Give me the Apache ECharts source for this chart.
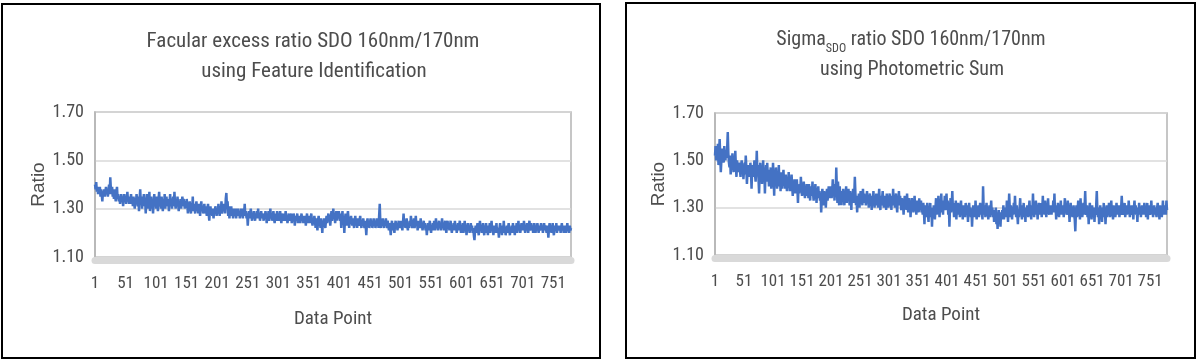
<!DOCTYPE html>
<html>
<head>
<meta charset="utf-8">
<script src="https://cdn.jsdelivr.net/npm/echarts@6/dist/echarts.min.js"></script>
<style>
html,body{margin:0;padding:0;background:#fff;}
#chart{width:1200px;height:362px;}
</style>
</head>
<body>
<div id="chart"></div>
<script>
// ---------- data ----------
const categories = Array.from({length: 780}, (_, i) => String(i + 1));
const yTicks = [1.10, 1.30, 1.50, 1.70];
const leftTitle = ['Facular excess ratio SDO 160nm/170nm', 'using Feature Identification'];
const rightTitle = ['Sigma', 'SDO', ' ratio SDO 160nm/170nm', 'using Photometric Sum'];
const xName = 'Data Point';
const yName = 'Ratio';

const facularRatio = [
1.40,1.38,1.41,1.37,1.39,1.36,1.38,1.37,1.39,1.35,1.38,1.36,1.33,1.37,1.36,1.38,1.35,1.37,1.39,1.36,
1.38,1.35,1.37,1.40,1.36,1.43,1.38,1.36,1.39,1.35,1.37,1.34,1.38,1.35,1.33,1.37,1.39,1.34,1.36,1.33,
1.35,1.32,1.34,1.36,1.33,1.35,1.31,1.34,1.36,1.33,1.35,1.32,1.34,1.37,1.33,1.35,1.32,1.34,1.33,1.36,
1.32,1.34,1.31,1.35,1.33,1.30,1.34,1.32,1.36,1.33,1.31,1.35,1.29,1.34,1.38,1.32,1.35,1.30,1.34,1.33,
1.36,1.31,1.34,1.28,1.33,1.36,1.30,1.34,1.32,1.37,1.29,1.33,1.35,1.30,1.34,1.28,1.33,1.36,1.31,1.34,
1.30,1.35,1.32,1.29,1.34,1.37,1.31,1.33,1.30,1.35,1.32,1.29,1.34,1.31,1.36,1.30,1.33,1.35,1.31,1.34,
1.32,1.29,1.33,1.36,1.31,1.34,1.30,1.33,1.35,1.31,1.37,1.32,1.30,1.34,1.31,1.35,1.32,1.29,1.33,1.31,
1.34,1.30,1.33,1.35,1.31,1.34,1.32,1.30,1.33,1.31,1.34,1.32,1.28,1.31,1.29,1.33,1.30,1.28,1.32,1.30,
1.35,1.29,1.32,1.30,1.28,1.31,1.33,1.29,1.31,1.28,1.32,1.30,1.27,1.31,1.33,1.29,1.31,1.28,1.30,1.32,
1.28,1.31,1.29,1.27,1.30,1.32,1.28,1.25,1.29,1.31,1.28,1.30,1.27,1.29,1.26,1.30,1.28,1.31,1.29,1.27,
1.30,1.28,1.32,1.29,1.27,1.31,1.29,1.33,1.28,1.30,1.32,1.29,1.31,1.28,1.34,1.365,1.30,1.33,1.27,1.31,
1.26,1.30,1.28,1.31,1.27,1.29,1.26,1.30,1.28,1.27,1.30,1.26,1.29,1.28,1.30,1.27,1.29,1.26,1.28,1.30,
1.27,1.29,1.26,1.30,1.28,1.32,1.27,1.29,1.26,1.28,1.23,1.27,1.29,1.26,1.28,1.30,1.27,1.25,1.28,1.26,
1.29,1.27,1.25,1.28,1.26,1.29,1.27,1.30,1.26,1.28,1.25,1.27,1.29,1.26,1.28,1.27,1.25,1.28,1.26,1.29,
1.27,1.24,1.28,1.26,1.29,1.25,1.27,1.30,1.26,1.28,1.25,1.27,1.29,1.26,1.24,1.28,1.27,1.25,1.29,1.26,
1.28,1.25,1.27,1.29,1.26,1.24,1.28,1.26,1.27,1.25,1.28,1.26,1.29,1.25,1.27,1.24,1.26,1.28,1.25,1.27,
1.26,1.28,1.24,1.27,1.25,1.28,1.26,1.23,1.27,1.25,1.26,1.28,1.24,1.26,1.25,1.27,1.24,1.26,1.28,1.25,
1.27,1.24,1.26,1.25,1.27,1.23,1.26,1.28,1.24,1.26,1.25,1.27,1.24,1.26,1.28,1.25,1.23,1.26,1.24,1.27,
1.25,1.22,1.26,1.24,1.21,1.25,1.27,1.23,1.25,1.22,1.26,1.24,1.20,1.25,1.23,1.26,1.24,1.22,1.25,1.27,
1.24,1.26,1.28,1.25,1.27,1.23,1.26,1.29,1.25,1.27,1.30,1.26,1.28,1.24,1.27,1.29,1.25,1.28,1.26,1.29,
1.27,1.25,1.28,1.22,1.26,1.29,1.24,1.27,1.20,1.25,1.28,1.26,1.23,1.27,1.29,1.25,1.22,1.26,1.24,1.27,
1.25,1.23,1.26,1.24,1.22,1.25,1.27,1.23,1.25,1.22,1.26,1.24,1.23,1.25,1.27,1.24,1.22,1.25,1.23,1.26,
1.24,1.22,1.25,1.23,1.19,1.24,1.26,1.23,1.25,1.22,1.24,1.26,1.23,1.25,1.22,1.24,1.26,1.23,1.25,1.22,
1.24,1.26,1.23,1.25,1.22,1.27,1.32,1.24,1.22,1.25,1.23,1.26,1.24,1.22,1.25,1.23,1.26,1.24,1.22,1.25,
1.23,1.21,1.24,1.22,1.19,1.23,1.25,1.21,1.24,1.22,1.20,1.23,1.25,1.22,1.24,1.21,1.23,1.25,1.22,1.24,
1.22,1.25,1.23,1.21,1.24,1.28,1.23,1.25,1.22,1.24,1.26,1.23,1.21,1.24,1.22,1.25,1.23,1.27,1.24,1.22,
1.25,1.23,1.26,1.22,1.24,1.27,1.23,1.25,1.21,1.24,1.22,1.25,1.23,1.26,1.22,1.24,1.21,1.23,1.25,1.22,
1.24,1.21,1.23,1.19,1.22,1.24,1.21,1.23,1.25,1.22,1.20,1.23,1.21,1.24,1.22,1.25,1.21,1.23,1.26,1.22,
1.24,1.21,1.23,1.25,1.22,1.24,1.21,1.23,1.26,1.22,1.24,1.21,1.23,1.25,1.22,1.20,1.23,1.25,1.22,1.24,
1.21,1.23,1.25,1.22,1.20,1.23,1.21,1.24,1.22,1.25,1.21,1.23,1.20,1.22,1.24,1.21,1.23,1.25,1.22,1.20,
1.23,1.21,1.24,1.20,1.22,1.25,1.21,1.23,1.19,1.22,1.24,1.21,1.23,1.20,1.22,1.24,1.21,1.23,1.20,1.22,
1.19,1.17,1.21,1.23,1.20,1.22,1.24,1.21,1.19,1.22,1.25,1.21,1.23,1.20,1.22,1.24,1.21,1.19,1.23,1.21,
1.24,1.20,1.22,1.19,1.23,1.21,1.24,1.20,1.22,1.25,1.21,1.23,1.19,1.22,1.20,1.23,1.21,1.24,1.20,1.22,
1.21,1.18,1.22,1.24,1.20,1.22,1.19,1.23,1.21,1.25,1.20,1.22,1.19,1.21,1.23,1.20,1.22,1.24,1.21,1.19,
1.22,1.20,1.23,1.21,1.24,1.20,1.22,1.19,1.23,1.21,1.24,1.20,1.22,1.25,1.21,1.23,1.20,1.22,1.24,1.21,
1.23,1.21,1.25,1.22,1.20,1.23,1.21,1.24,1.22,1.20,1.23,1.25,1.21,1.22,1.24,1.21,1.23,1.20,1.22,1.24,
1.22,1.20,1.23,1.21,1.24,1.22,1.20,1.23,1.21,1.22,1.24,1.21,1.23,1.20,1.22,1.24,1.21,1.23,1.22,1.20,
1.23,1.21,1.18,1.22,1.24,1.21,1.23,1.20,1.22,1.24,1.21,1.19,1.22,1.23,1.21,1.24,1.20,1.22,1.21,1.23,
1.21,1.23,1.20,1.22,1.24,1.21,1.23,1.20,1.22,1.21,1.23,1.20,1.22,1.24,1.21,1.22,1.20,1.23,1.21,1.22
];

const sigmaRatio = [
1.52,1.56,1.50,1.54,1.51,1.57,1.48,1.53,1.59,1.52,1.45,1.50,1.55,1.51,1.53,1.49,1.56,1.52,1.50,1.54,
1.51,1.55,1.62,1.53,1.49,1.47,1.52,1.44,1.50,1.46,1.53,1.49,1.45,1.51,1.48,1.54,1.47,1.43,1.50,1.46,
1.48,1.45,1.49,1.46,1.43,1.47,1.50,1.45,1.48,1.42,1.46,1.49,1.44,1.52,1.47,1.40,1.45,1.48,1.43,1.47,
1.44,1.49,1.45,1.38,1.46,1.48,1.43,1.47,1.50,1.44,1.41,1.46,1.54,1.45,1.48,1.42,1.36,1.45,1.49,1.43,
1.47,1.40,1.45,1.50,1.42,1.46,1.36,1.44,1.48,1.41,1.49,1.43,1.45,1.39,1.46,1.42,1.47,1.38,1.44,1.41,
1.49,1.43,1.35,1.45,1.40,1.47,1.42,1.38,1.44,1.41,1.48,1.39,1.43,1.37,1.45,1.41,1.38,1.43,1.46,1.40,
1.42,1.38,1.44,1.40,1.37,1.43,1.39,1.45,1.41,1.37,1.42,1.38,1.44,1.39,1.35,1.41,1.38,1.42,1.36,1.40,
1.37,1.42,1.38,1.32,1.39,1.36,1.40,1.37,1.43,1.38,1.35,1.39,1.36,1.41,1.37,1.34,1.39,1.36,1.40,1.35,
1.38,1.34,1.40,1.36,1.33,1.39,1.37,1.35,1.41,1.36,1.33,1.38,1.35,1.40,1.36,1.32,1.38,1.35,1.39,1.34,
1.37,1.33,1.36,1.28,1.34,1.38,1.35,1.31,1.37,1.34,1.36,1.30,1.35,1.38,1.33,1.36,1.39,1.34,1.37,1.35,
1.39,1.34,1.37,1.42,1.35,1.38,1.33,1.40,1.36,1.47,1.38,1.32,1.41,1.35,1.31,1.39,1.34,1.37,1.31,1.36,
1.33,1.38,1.35,1.31,1.37,1.34,1.39,1.32,1.36,1.33,1.38,1.35,1.31,1.37,1.34,1.29,1.36,1.33,1.38,1.32,
1.35,1.43,1.36,1.31,1.34,1.28,1.35,1.32,1.36,1.30,1.34,1.37,1.32,1.35,1.31,1.38,1.33,1.36,1.32,1.35,
1.31,1.34,1.37,1.32,1.35,1.30,1.33,1.36,1.31,1.34,1.29,1.35,1.32,1.37,1.33,1.30,1.34,1.31,1.36,1.32,
1.35,1.30,1.34,1.38,1.32,1.29,1.35,1.31,1.34,1.37,1.32,1.30,1.35,1.31,1.33,1.29,1.36,1.32,1.34,1.30,
1.33,1.36,1.31,1.34,1.29,1.35,1.32,1.38,1.31,1.34,1.30,1.33,1.36,1.31,1.28,1.34,1.32,1.37,1.31,1.35,
1.32,1.29,1.34,1.30,1.33,1.27,1.32,1.35,1.30,1.33,1.29,1.36,1.31,1.28,1.34,1.30,1.33,1.26,1.31,1.34,
1.30,1.33,1.28,1.32,1.35,1.29,1.31,1.27,1.33,1.30,1.32,1.28,1.34,1.29,1.31,1.33,1.28,1.30,1.27,1.32,
1.29,1.23,1.31,1.28,1.26,1.30,1.32,1.27,1.24,1.30,1.28,1.32,1.26,1.29,1.22,1.30,1.27,1.31,1.28,1.25,
1.30,1.34,1.27,1.31,1.28,1.35,1.29,1.26,1.32,1.30,1.36,1.28,1.31,1.27,1.33,1.30,1.35,1.29,1.32,1.36,
1.29,1.33,1.27,1.31,1.22,1.30,1.34,1.28,1.31,1.37,1.29,1.32,1.26,1.30,1.28,1.33,1.25,1.30,1.27,1.32,
1.28,1.31,1.26,1.30,1.33,1.27,1.29,1.25,1.31,1.28,1.30,1.26,1.32,1.29,1.27,1.31,1.24,1.29,1.32,1.28,
1.30,1.26,1.29,1.22,1.28,1.31,1.27,1.30,1.26,1.33,1.28,1.25,1.30,1.27,1.31,1.26,1.29,1.32,1.27,1.30,
1.28,1.25,1.39,1.30,1.27,1.31,1.26,1.29,1.32,1.27,1.30,1.25,1.28,1.31,1.26,1.29,1.33,1.27,1.30,1.26,
1.29,1.24,1.28,1.26,1.30,1.23,1.27,1.21,1.26,1.29,1.24,1.27,1.22,1.28,1.25,1.29,1.26,1.31,1.25,1.28,
1.26,1.30,1.27,1.33,1.28,1.24,1.29,1.36,1.30,1.26,1.31,1.28,1.25,1.30,1.27,1.32,1.28,1.35,1.29,1.26,
1.31,1.27,1.23,1.29,1.26,1.30,1.34,1.27,1.29,1.25,1.31,1.28,1.32,1.26,1.29,1.24,1.30,1.27,1.31,1.28,
1.26,1.30,1.33,1.27,1.29,1.25,1.31,1.28,1.36,1.29,1.26,1.31,1.28,1.33,1.27,1.30,1.25,1.29,1.32,1.27,
1.30,1.28,1.32,1.26,1.29,1.35,1.28,1.31,1.27,1.33,1.29,1.26,1.31,1.28,1.34,1.29,1.27,1.31,1.28,1.30,
1.27,1.31,1.28,1.33,1.29,1.36,1.28,1.31,1.25,1.30,1.27,1.32,1.28,1.26,1.31,1.29,1.33,1.27,1.30,1.28,
1.31,1.26,1.30,1.34,1.28,1.31,1.27,1.29,1.33,1.27,1.30,1.24,1.29,1.32,1.27,1.30,1.26,1.29,1.31,1.27,
1.25,1.20,1.28,1.31,1.26,1.29,1.33,1.27,1.30,1.25,1.34,1.28,1.31,1.26,1.29,1.32,1.27,1.30,1.37,1.29,
1.27,1.31,1.26,1.30,1.23,1.29,1.32,1.27,1.30,1.25,1.31,1.28,1.26,1.30,1.24,1.29,1.27,1.31,1.37,1.29,
1.26,1.30,1.23,1.28,1.31,1.26,1.29,1.24,1.30,1.27,1.32,1.26,1.29,1.23,1.28,1.31,1.26,1.30,1.27,1.32,
1.28,1.26,1.30,1.33,1.27,1.29,1.25,1.31,1.28,1.30,1.26,1.29,1.32,1.27,1.30,1.28,1.31,1.26,1.29,1.27,
1.30,1.35,1.29,1.27,1.31,1.28,1.32,1.26,1.29,1.31,1.27,1.30,1.28,1.33,1.29,1.26,1.30,1.28,1.31,1.27,
1.29,1.25,1.30,1.33,1.28,1.31,1.27,1.29,1.24,1.30,1.28,1.32,1.27,1.30,1.26,1.29,1.31,1.27,1.30,1.28,
1.32,1.27,1.30,1.26,1.29,1.32,1.25,1.30,1.28,1.31,1.27,1.29,1.33,1.28,1.30,1.26,1.29,1.31,1.27,1.30,
1.28,1.26,1.30,1.32,1.27,1.29,1.25,1.31,1.28,1.30,1.26,1.29,1.33,1.27,1.30,1.28,1.31,1.27,1.33,1.29
];

// ---------- styling ----------
const NARROW = "'Liberation Sans Narrow', 'Arial Narrow', 'Roboto Condensed', sans-serif";
const TEXT = '#4d4d4d';
const LINE = '#4472c4';

function makeX(gridIndex, nameGap) {
  return {
    type: 'category', gridIndex, data: categories, boundaryGap: false,
    offset: 3.5,
    axisLine: {show: true, lineStyle: {color: '#d9d9d9', width: 7}},
    axisTick: {show: false},
    axisLabel: {interval: 49, color: TEXT, fontFamily: NARROW, fontSize: 17, margin: 15},
    splitLine: {show: false},
    name: xName, nameLocation: 'middle', nameGap,
    nameTextStyle: {color: TEXT, fontFamily: NARROW, fontSize: 19}
  };
}
function makeY(gridIndex, nameGap) {
  return {
    type: 'value', gridIndex,
    min: yTicks[0], max: yTicks[yTicks.length - 1], interval: 0.2,
    axisLine: {show: true, lineStyle: {color: '#b4b4b4', width: 1.5}},
    axisTick: {show: false},
    axisLabel: {color: TEXT, fontFamily: NARROW, fontSize: 18, margin: 11,
      formatter: v => v.toFixed(2)},
    splitLine: {show: true, lineStyle: {color: '#d9d9d9', width: 1.5}},
    name: yName, nameLocation: 'middle', nameGap, nameRotate: 90,
    nameTextStyle: {color: TEXT, fontFamily: "'Liberation Sans', Arial, sans-serif", fontSize: 19}
  };
}

const chart = echarts.init(document.getElementById('chart'), null, {renderer: 'canvas'});
chart.setOption({
  animation: false,
  backgroundColor: '#fff',
  grid: [
    {left: 95, top: 112, width: 476, height: 145, show: true, borderColor: '#b4b4b4', borderWidth: 1.5, backgroundColor: 'transparent'},
    {left: 715, top: 113, width: 452, height: 142, show: true, borderColor: '#b4b4b4', borderWidth: 1.5, backgroundColor: 'transparent'}
  ],
  xAxis: [makeX(0, 49), makeX(1, 47)],
  yAxis: [makeY(0, 47), makeY(1, 45)],
  series: [
    {type: 'line', xAxisIndex: 0, yAxisIndex: 0, data: facularRatio, showSymbol: false, sampling: null,
     lineStyle: {color: LINE, width: 2.5}, itemStyle: {color: LINE}},
    {type: 'line', xAxisIndex: 1, yAxisIndex: 1, data: sigmaRatio, showSymbol: false, sampling: null,
     lineStyle: {color: LINE, width: 2.5}, itemStyle: {color: LINE}}
  ],
  graphic: [
    {type: 'rect', shape: {x: 2, y: 4, width: 598, height: 354}, style: {fill: null, stroke: '#000', lineWidth: 2}, silent: true},
    {type: 'rect', shape: {x: 626, y: 3, width: 569, height: 355}, style: {fill: null, stroke: '#000', lineWidth: 2}, silent: true},
    {type: 'text', x: 313, y: 42, style: {text: leftTitle[0], fill: TEXT, font: "21px " + NARROW, align: 'center', verticalAlign: 'middle'}},
    {type: 'text', x: 314, y: 72, style: {text: leftTitle[1], fill: TEXT, font: "21px " + NARROW, align: 'center', verticalAlign: 'middle'}},
    {type: 'text', x: 911, y: 40, style: {
      text: '{a|' + rightTitle[0] + '}{s|' + rightTitle[1] + '}{a|' + rightTitle[2] + '}',
      align: 'center', verticalAlign: 'middle',
      rich: {
        a: {fill: TEXT, fontFamily: NARROW, fontSize: 20, lineHeight: 30, verticalAlign: 'middle'},
        s: {fill: TEXT, fontFamily: NARROW, fontSize: 12, lineHeight: 30, verticalAlign: 'bottom'}
      }}},
    {type: 'text', x: 912, y: 70, style: {text: rightTitle[3], fill: TEXT, font: "20px " + NARROW, align: 'center', verticalAlign: 'middle'}}
  ]
});
</script>
</body>
</html>
